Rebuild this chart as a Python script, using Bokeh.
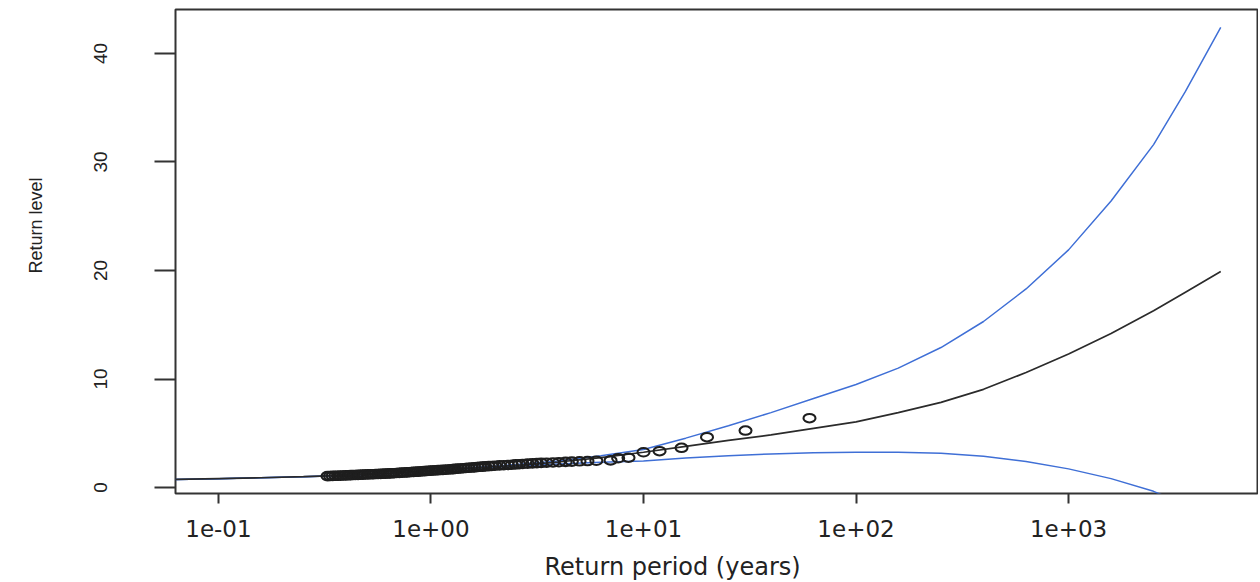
from bokeh.plotting import figure
from bokeh.models import Range1d, FixedTicker, Title, LinearAxis
from bokeh.embed import file_html
from bokeh.resources import INLINE

# ---- data ----
# return periods (years) at which the curves were read
curve_period = [0.063, 0.1, 0.158, 0.251, 0.398, 0.631, 1, 1.58, 2.51, 3.98, 6.31,
                10, 15.8, 25.1, 39.8, 63.1, 100, 158, 251, 398, 631, 1000, 1585, 2512,
                3548, 5200]
# fitted return level
fit_level = [0.75, 0.82, 0.9, 1.0, 1.12, 1.3, 1.55, 1.8, 2.05, 2.35, 2.75,
             3.25, 3.8, 4.35, 4.85, 5.45, 6.05, 6.9, 7.85, 9.05, 10.6, 12.3, 14.2, 16.3,
             18.0, 19.9]
# upper confidence bound
upper_level = [0.75, 0.82, 0.9, 1.0, 1.13, 1.32, 1.58, 1.85, 2.12, 2.45, 2.92,
               3.5, 4.55, 5.7, 6.9, 8.2, 9.5, 11.0, 12.9, 15.3, 18.3, 21.9, 26.4, 31.6,
               36.5, 42.4]
# lower confidence bound
lower_level = [0.75, 0.82, 0.9, 1.0, 1.11, 1.28, 1.52, 1.76, 1.98, 2.17, 2.32,
               2.45, 2.72, 2.93, 3.1, 3.2, 3.25, 3.24, 3.15, 2.88, 2.4, 1.72, 0.82, -0.35,
               -1.6, -3.2]

# empirical points (return period, level)
obs_period = [60.4, 30.2, 19.9, 15.1, 11.9, 10.0, 8.5, 7.6, 7.0,
              6.0, 5.45, 5.0, 4.6, 4.3, 4.0, 3.75, 3.5, 3.3, 3.15, 3.0, 2.85, 2.7, 2.6, 2.5,
              2.4, 2.3, 2.2, 2.1, 2.0, 1.93, 1.87, 1.8, 1.75, 1.7, 1.65, 1.6, 1.55, 1.5,
              1.46, 1.42, 1.38, 1.34, 1.3, 1.27, 1.24, 1.2, 1.17, 1.14, 1.11, 1.08, 1.05,
              1.02, 1.0, 0.97, 0.95, 0.93, 0.91, 0.89, 0.87, 0.85, 0.83, 0.81, 0.79, 0.77,
              0.75, 0.73, 0.71, 0.69, 0.67, 0.655, 0.64, 0.625, 0.61, 0.595, 0.58, 0.565,
              0.55, 0.535, 0.52, 0.505, 0.49, 0.478, 0.466, 0.454, 0.442, 0.43, 0.419,
              0.408, 0.397, 0.386, 0.375, 0.365, 0.355, 0.345, 0.335, 0.326]
obs_level = [6.39, 5.25, 4.64, 3.66, 3.35, 3.25, 2.75, 2.7, 2.5,
             2.47, 2.44, 2.42, 2.39, 2.36, 2.33, 2.31, 2.29, 2.27, 2.25, 2.23, 2.2, 2.17, 2.15, 2.13,
             2.1, 2.08, 2.06, 2.04, 2.01, 1.99, 1.97, 1.95, 1.93, 1.91, 1.89, 1.86, 1.84, 1.82,
             1.8, 1.78, 1.76, 1.74, 1.72, 1.7, 1.68, 1.66, 1.64, 1.63, 1.61, 1.6, 1.58,
             1.57, 1.56, 1.54, 1.52, 1.51, 1.5, 1.48, 1.47, 1.45, 1.44, 1.43, 1.41, 1.4,
             1.38, 1.37, 1.35, 1.34, 1.32, 1.31, 1.3, 1.29, 1.28, 1.27, 1.26, 1.25,
             1.24, 1.23, 1.22, 1.21, 1.2, 1.19, 1.18, 1.17, 1.16, 1.15, 1.14,
             1.13, 1.12, 1.11, 1.1, 1.09, 1.08, 1.07, 1.06, 1.05]

x_ticks = [0.1, 1, 10, 100, 1000]
x_tick_labels = ["1e-01", "1e+00", "1e+01", "1e+02", "1e+03"]
y_ticks = [0, 10, 20, 30, 40]

x_label = "Return period (years)"
y_label = "Return level"

# ---- figure ----
p = figure(width=1258, height=580, x_axis_type="log",
           x_range=Range1d(0.0628, 7745), y_range=Range1d(-0.55, 44.05),
           output_backend="svg", toolbar_location=None,
           min_border_left=175, min_border_right=1, min_border_top=9, min_border_bottom=87)
p.background_fill_color = "white"
p.border_fill_color = "white"
p.outline_line_color = "#333333"
p.outline_line_width = 2
p.grid.visible = False

ax = p.xaxis[0]
ax.ticker = FixedTicker(ticks=x_ticks, minor_ticks=[])
ax.major_label_overrides = {t: l for t, l in zip(x_ticks, x_tick_labels)}
ax.axis_line_color = None
ax.major_tick_in = 0
ax.major_tick_out = 10
ax.major_tick_line_width = 2
ax.major_tick_line_color = "#333333"
ax.minor_tick_line_color = None
ax.major_label_standoff = 16
ax.major_label_text_font = "DejaVu Sans"
ax.major_label_text_font_size = "23px"
ax.major_label_text_color = "#222222"

ay = p.yaxis[0]
ay.ticker = FixedTicker(ticks=y_ticks, minor_ticks=[])
ay.axis_line_color = None
ay.major_tick_in = 0
ay.major_tick_out = 21
ay.major_tick_line_width = 2
ay.major_tick_line_color = "#333333"
ay.minor_tick_line_color = None
ay.major_label_orientation = "vertical"
ay.major_label_standoff = 47
ay.major_label_text_font = "Liberation Sans"
ay.major_label_text_font_size = "19px"
ay.major_label_text_color = "#222222"

blue = "#3f6fd6"
p.line(curve_period, upper_level, line_color=blue, line_width=1.5)
p.line(curve_period, lower_level, line_color=blue, line_width=1.5)
p.line(curve_period, fit_level, line_color="#2b2b2b", line_width=1.7)
p.ellipse(obs_period, obs_level, width=12, height=8.5, width_units="screen",
          height_units="screen", fill_color=None, line_color="#1e1e1e", line_width=2.1)


def spacer(size, at):
    # blank axis (one white tick, no label) that only reserves room before the axis title
    return LinearAxis(ticker=FixedTicker(ticks=[at], minor_ticks=[]), axis_line_color=None,
                      major_tick_in=0, major_tick_out=size, minor_tick_in=0, minor_tick_out=0,
                      major_tick_line_color="white", major_label_text_color=None,
                      major_label_standoff=0)


has_standoff = "standoff" in Title.properties()

p.add_layout(spacer(11, 0.3), "below")
tx = dict(text=x_label, align="left", offset=369, text_font="DejaVu Sans",
          text_font_size="24px", text_font_style="normal", text_color="#222222")
if has_standoff:
    tx["standoff"] = 0
p.add_layout(Title(**tx), "below")

p.add_layout(spacer(46, 35), "left")
ty = dict(text=y_label, align="left", offset=220, text_font="Liberation Sans",
          text_font_size="18px", text_font_style="normal", text_color="#222222")
if has_standoff:
    ty["standoff"] = 0
p.add_layout(Title(**ty), "left")

open("out.html", "w").write(file_html(p, INLINE))
